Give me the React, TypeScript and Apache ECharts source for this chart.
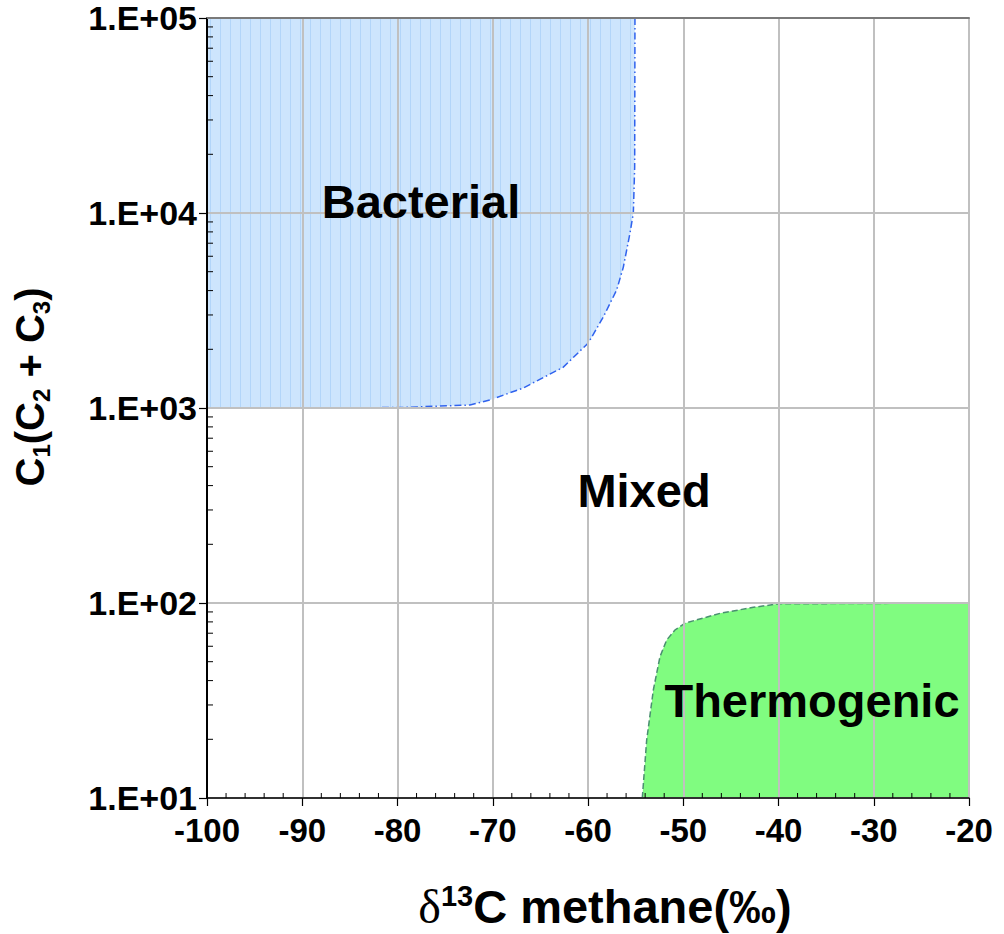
import React, { useEffect, useRef } from 'react';
import * as echarts from 'echarts';

// ---- data ----
const xTickValues = [-100, -90, -80, -70, -60, -50, -40, -30, -20];
const yTickLabels = ['1.E+01', '1.E+02', '1.E+03', '1.E+04', '1.E+05'];

// Bacterial field boundary (δ13C, C1/(C2+C3))
const bacterialX = [-100, -55.07, -55.1, -55.24, -55.59, -56.29, -56.99, -58.39, -59.97, -62.59, -66.79, -70.29, -72.39, -79.39, -86, -100];
const bacterialY = [100000, 100000, 17200, 10000, 7890, 5280, 4030, 2930, 2155, 1620, 1267, 1100, 1036, 1007, 1000, 1000];

// Thermogenic field boundary
const thermoX = [-54.3, -54.26, -53.84, -53.14, -52.44, -51.74, -50.87, -49.82, -46.14, -42.64, -40.02, -20, -20];
const thermoY = [10, 10.6, 19.8, 35.8, 53.1, 64.6, 72.7, 78.8, 88.5, 95, 99, 100, 10];

const regionLabels = ['Bacterial', 'Mixed', 'Thermogenic'];

const FONT = "'Liberation Sans', Arial, Helvetica, sans-serif";

export default function App() {
  const ref = useRef<HTMLDivElement>(null);

  useEffect(() => {
    if (!ref.current) return;
    const chart = echarts.init(ref.current, undefined, { renderer: 'svg' });

    const cv = document.createElement('canvas');
    cv.width = 10;
    cv.height = 10;
    const ctx = cv.getContext('2d');
    if (ctx) {
      ctx.fillStyle = '#cde5fd';
      ctx.fillRect(0, 0, 10, 10);
      ctx.fillStyle = '#b2d5f9';
      ctx.fillRect(0, 0, 1, 10);
    }

    // minor tick positions (axis decoration)
    const yMinor: number[][] = [];
    for (let k = 1; k <= 4; k++) {
      for (let m = 2; m <= 9; m++) yMinor.push([-100, m * Math.pow(10, k)]);
    }
    const xMinor: number[][] = [];
    for (let v = -98; v < -20; v += 2) {
      if (v % 10 !== 0) xMinor.push([v, 10]);
    }

    const option: any = {
      animation: false,
      backgroundColor: '#ffffff',
      grid: { left: 207, top: 18, width: 762, height: 780, outerBoundsMode: 'none' },
      xAxis: [
        {
          type: 'value',
          min: -100,
          max: -20,
          interval: 10,
          z: 5,
          axisLine: { show: true, onZero: false, lineStyle: { color: '#000', width: 1.5 } },
          axisTick: { show: true, inside: false, length: 8, lineStyle: { color: '#000', width: 1.2 } },
          axisLabel: {
            margin: 16,
            color: '#000',
            fontFamily: FONT,
            fontWeight: 'bold',
            fontSize: 33,
            formatter: (v: number) => String(xTickValues.find((t) => t === v) ?? v),
          },
          splitLine: { show: true, lineStyle: { color: '#c0c0c0', width: 2 } },
        },
        {
          type: 'value',
          position: 'top',
          min: -100,
          max: -20,
          z: 5,
          axisLine: { show: true, onZero: false, lineStyle: { color: '#7a7a7a', width: 2 } },
          axisTick: { show: false },
          axisLabel: { show: false },
          splitLine: { show: false },
        },
      ],
      yAxis: {
        type: 'log',
        logBase: 10,
        min: 10,
        max: 100000,
        z: 5,
        axisLine: { show: true, onZero: false, lineStyle: { color: '#000', width: 2 } },
        axisTick: { show: true, inside: false, length: 8, lineStyle: { color: '#000', width: 1.2 } },
        axisLabel: {
          margin: 10,
          color: '#000',
          fontFamily: FONT,
          fontWeight: 'bold',
          fontSize: 34,
          formatter: (v: number) => yTickLabels[Math.round(Math.log10(v)) - 1] ?? '',
        },
        splitLine: { show: true, lineStyle: { color: '#c0c0c0', width: 2 } },
      },
      series: [
        {
          type: 'custom',
          z: 1,
          silent: true,
          data: [[0, 0]],
          renderItem: (_params: any, api: any) => {
            const pts = bacterialX.map((x, i) => api.coord([x, bacterialY[i]]));
            const curve = pts.slice(1);
            return {
              type: 'group',
              children: [
                {
                  type: 'polygon',
                  shape: { points: pts },
                  style: { fill: { image: cv, repeat: 'repeat' }, stroke: 'none' },
                },
                {
                  type: 'polyline',
                  shape: { points: curve },
                  style: { fill: 'none', stroke: '#2f62ee', lineWidth: 1.5, lineDash: [7, 3, 1.5, 3] },
                },
              ],
            };
          },
        },
        {
          type: 'custom',
          z: 1,
          silent: true,
          data: [[0, 0]],
          renderItem: (_params: any, api: any) => {
            const pts = thermoX.map((x, i) => api.coord([x, thermoY[i]]));
            return {
              type: 'polygon',
              shape: { points: pts },
              style: { fill: '#80fc80', stroke: '#4a8f70', lineWidth: 1.5, lineDash: [6, 3] },
            };
          },
        },
        {
          type: 'custom',
          z: 6,
          silent: true,
          data: yMinor,
          renderItem: (_params: any, api: any) => {
            const p = api.coord([api.value(0), api.value(1)]);
            return {
              type: 'line',
              shape: { x1: p[0], y1: p[1], x2: p[0] + 6, y2: p[1] },
              style: { stroke: '#000', lineWidth: 1 },
            };
          },
        },
        {
          type: 'custom',
          z: 6,
          silent: true,
          data: xMinor,
          renderItem: (_params: any, api: any) => {
            const p = api.coord([api.value(0), api.value(1)]);
            return {
              type: 'line',
              shape: { x1: p[0], y1: p[1], x2: p[0], y2: p[1] - 5 },
              style: { stroke: '#000', lineWidth: 1 },
            };
          },
        },
      ],
      graphic: [
        {
          type: 'text',
          x: 421,
          y: 201,
          z: 100,
          style: { text: regionLabels[0], fontFamily: FONT, fontWeight: 'bold', fontSize: 47, fill: '#000', align: 'center', verticalAlign: 'middle' },
        },
        {
          type: 'text',
          x: 644,
          y: 490,
          z: 100,
          style: { text: regionLabels[1], fontFamily: FONT, fontWeight: 'bold', fontSize: 47, fill: '#000', align: 'center', verticalAlign: 'middle' },
        },
        {
          type: 'text',
          x: 812,
          y: 700,
          z: 100,
          style: { text: regionLabels[2], fontFamily: FONT, fontWeight: 'bold', fontSize: 47, fill: '#000', align: 'center', verticalAlign: 'middle' },
        },
        {
          type: 'text',
          x: 605,
          y: 906,
          z: 100,
          style: {
            text: '{d|δ}{s|13}{b|C methane(‰)}',
            align: 'center',
            verticalAlign: 'middle',
            fill: '#000',
            rich: {
              d: { fontFamily: "'Liberation Serif', 'Times New Roman', serif", fontSize: 48, lineHeight: 50, fill: '#000', color: '#000' },
              s: { fontFamily: FONT, fontWeight: 'bold', fontSize: 29, lineHeight: 30, verticalAlign: 'top', fill: '#000', color: '#000' },
              b: { fontFamily: FONT, fontWeight: 'bold', fontSize: 47, lineHeight: 50, fill: '#000', color: '#000' },
            },
          },
        },
        {
          type: 'text',
          x: 30,
          y: 387,
          z: 100,
          rotation: Math.PI / 2,
          style: {
            text: '{b|C}{s|1}{b|(C}{s|2}{b| + C}{s|3}{b|)}',
            align: 'center',
            verticalAlign: 'middle',
            fill: '#000',
            rich: {
              b: { fontFamily: FONT, fontWeight: 'bold', fontSize: 40, lineHeight: 46, fill: '#000', color: '#000' },
              s: { fontFamily: FONT, fontWeight: 'bold', fontSize: 24, lineHeight: 20, verticalAlign: 'bottom', fill: '#000', color: '#000' },
            },
          },
        },
      ],
    };

    chart.setOption(option);
    return () => chart.dispose();
  }, []);

  return (
    <div
      ref={ref}
      style={{ position: 'fixed', left: 0, top: 0, width: 1004, height: 934, background: '#fff' }}
    />
  );
}
